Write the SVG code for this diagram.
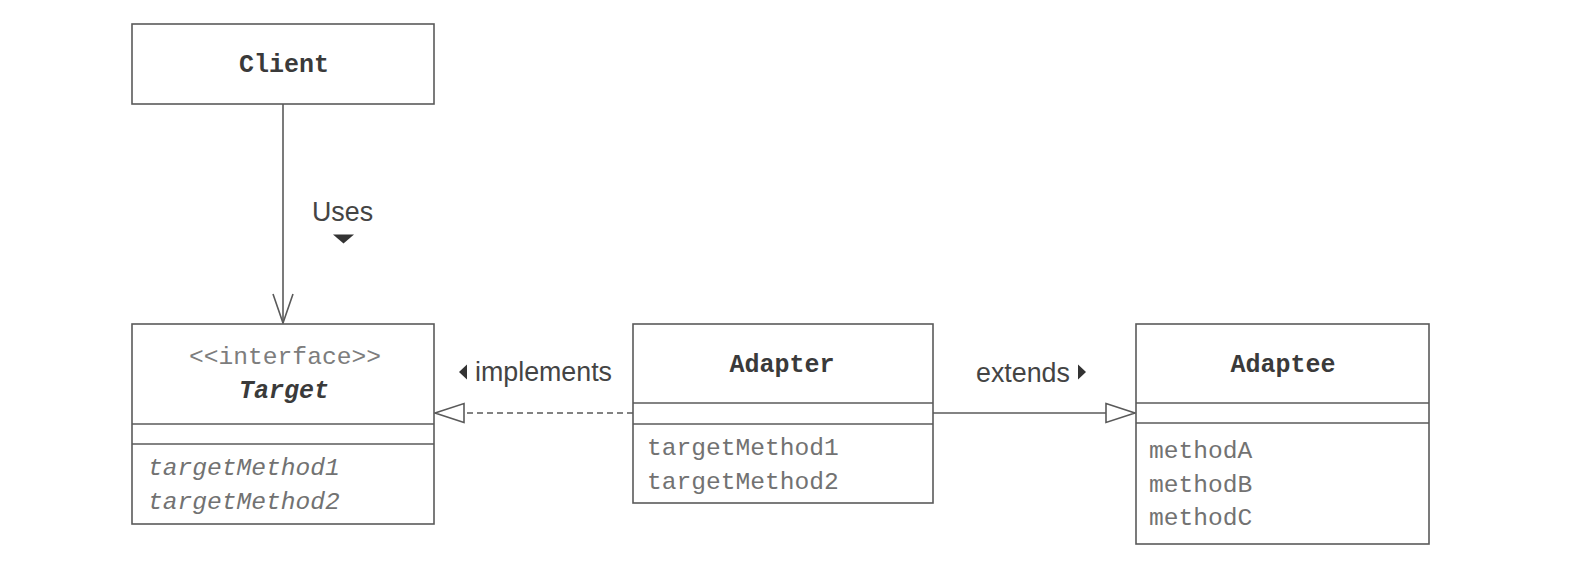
<svg xmlns="http://www.w3.org/2000/svg" width="1582" height="582" viewBox="0 0 1582 582">
  <style>
    .box { fill: #ffffff; stroke: #5a5a5a; stroke-width: 1.6; }
    .div { stroke: #5a5a5a; stroke-width: 1.6; fill: none; }
    .name { font-family: "Liberation Mono", "Courier New", monospace; font-weight: bold; font-size: 25px; fill: #3a3a3a; text-anchor: middle; }
    .stereo { font-family: "Liberation Mono", "Courier New", monospace; font-size: 24.6px; fill: #7d7d7d; text-anchor: middle; }
    .op { font-family: "Liberation Mono", "Courier New", monospace; font-size: 24.6px; fill: #727272; }
    .label { font-family: "Liberation Sans", Arial, sans-serif; font-size: 26.8px; fill: #444444; }
    .conn { stroke: #5a5a5a; stroke-width: 1.6; fill: none; }
    .dir { fill: #333333; stroke: none; }
  </style>
  <defs>
    <marker id="open-arrow" markerUnits="userSpaceOnUse" markerWidth="34" markerHeight="24" refX="30" refY="11" orient="auto">
      <path d="M1,1 L30,11 L1,21" fill="none" stroke="#5a5a5a" stroke-width="1.6"/>
    </marker>
    <marker id="hollow-tri" markerUnits="userSpaceOnUse" markerWidth="34" markerHeight="24" refX="30" refY="11" orient="auto">
      <path d="M1,1.5 L30,11 L1,20.5 Z" fill="#ffffff" stroke="#5a5a5a" stroke-width="1.6"/>
    </marker>
  </defs>

  <rect width="1582" height="582" fill="#ffffff"/>

  <!-- connectors -->
  <g id="connectors">
    <line class="conn" x1="283" y1="104" x2="283" y2="323" marker-end="url(#open-arrow)"/>
    <line class="conn" x1="633" y1="413" x2="435" y2="413" stroke-dasharray="6,4" marker-end="url(#hollow-tri)"/>
    <line class="conn" x1="933" y1="413" x2="1135" y2="413" marker-end="url(#hollow-tri)"/>

    <text class="label" x="312" y="221">Uses</text>
    <path class="dir" d="M333,234.5 L354,234.5 L343.5,243.5 Z"/>

    <path class="dir" d="M467,364.5 L467,379.5 L459,372 Z"/>
    <text class="label" x="475" y="381">implements</text>

    <text class="label" x="976" y="382">extends</text>
    <path class="dir" d="M1078,364.5 L1078,379.5 L1086,372 Z"/>
  </g>

  <!-- Client -->
  <g id="client">
    <rect class="box" x="132" y="24" width="302" height="80"/>
    <text class="name" x="284" y="72">Client</text>
  </g>

  <!-- Target interface -->
  <g id="target">
    <rect class="box" x="132" y="324" width="302" height="200"/>
    <line class="div" x1="132" y1="424" x2="434" y2="424"/>
    <line class="div" x1="132" y1="444" x2="434" y2="444"/>
    <text class="stereo" x="285" y="364">&lt;&lt;interface&gt;&gt;</text>
    <text class="name" x="284" y="398" font-style="italic">Target</text>
    <text class="op" x="148" y="475" font-style="italic">targetMethod1</text>
    <text class="op" x="148" y="509" font-style="italic">targetMethod2</text>
  </g>

  <!-- Adapter -->
  <g id="adapter">
    <rect class="box" x="633" y="324" width="300" height="179"/>
    <line class="div" x1="633" y1="403" x2="933" y2="403"/>
    <line class="div" x1="633" y1="424" x2="933" y2="424"/>
    <text class="name" x="782" y="372">Adapter</text>
    <text class="op" x="647" y="455">targetMethod1</text>
    <text class="op" x="647" y="489">targetMethod2</text>
  </g>

  <!-- Adaptee -->
  <g id="adaptee">
    <rect class="box" x="1136" y="324" width="293" height="220"/>
    <line class="div" x1="1136" y1="403" x2="1429" y2="403"/>
    <line class="div" x1="1136" y1="423" x2="1429" y2="423"/>
    <text class="name" x="1283" y="372">Adaptee</text>
    <text class="op" x="1149" y="458">methodA</text>
    <text class="op" x="1149" y="492">methodB</text>
    <text class="op" x="1149" y="525">methodC</text>
  </g>
</svg>
